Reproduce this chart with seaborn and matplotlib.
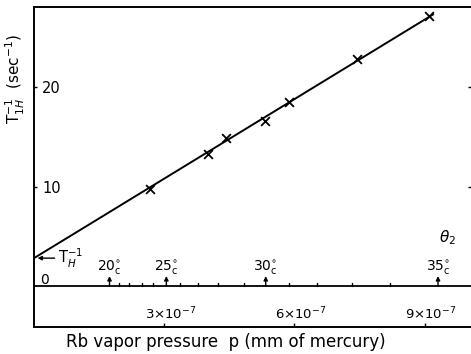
import numpy as np
import pandas as pd
import matplotlib
matplotlib.use("Agg")
import matplotlib.pyplot as plt
import seaborn as sns

# Measured relaxation rates vs Rb vapor pressure (pressure in units of 1e-7 mm Hg)
pressure = [2.68, 4.01, 4.43, 5.32, 5.87, 7.45, 9.11]
rate = [9.75, 13.27, 14.87, 16.58, 18.49, 22.81, 27.14]

# Fitted straight line (end points)
fit_p = [0.0, 9.2]
fit_rate = [2.8, 27.3]

# Pressure axis ticks
p_ticks = [3, 6, 9]
p_tick_labels = [r"3$\times$10$^{-7}$", r"6$\times$10$^{-7}$", r"9$\times$10$^{-7}$"]

# Temperature scale (theta_2) marked along the zero line
temp_major = [20, 25, 30, 35]
temp_major_p = [1.74, 3.05, 5.34, 9.31]
temp_minor_p = [1.95, 2.20, 2.48, 2.75, 3.37, 3.78, 4.24, 4.84,
                5.87, 6.51, 7.32, 8.21]

y_ticks = [10, 20]

sns.set_theme(style="ticks")
plt.rcParams["font.family"] = ["DejaVu Sans"]
plt.rcParams["mathtext.fontset"] = "dejavusans"
for key in ["text.color", "axes.labelcolor", "xtick.color", "ytick.color",
            "axes.edgecolor"]:
    plt.rcParams[key] = "black"

fig = plt.figure(figsize=(4.71, 3.54), dpi=100)
ax = fig.add_axes([34 / 471, (354 - 327) / 354, (471 - 34) / 471, (327 - 7) / 354])

df_pts = pd.DataFrame({"p": pressure, "rate": rate})
df_fit = pd.DataFrame({"p": fit_p, "rate": fit_rate})

sns.lineplot(data=df_fit, x="p", y="rate", color="black", linewidth=1.4, ax=ax)
sns.scatterplot(data=df_pts, x="p", y="rate", marker="x", color="black",
                s=40, linewidth=1.3, ax=ax, zorder=3)

ax.set_xlim(0, 10.07)
ax.set_ylim(-4.12, 28.04)

for side in ["left", "top", "bottom"]:
    ax.spines[side].set_color("black")
    ax.spines[side].set_linewidth(1.4)
ax.spines["right"].set_visible(False)

# zero line carrying the temperature scale
ax.axhline(0, color="black", linewidth=1.3)

ax.set_xticks(p_ticks)
ax.set_xticklabels([])
ax.tick_params(axis="x", direction="in", length=3, width=1, color="black")
for p, lab in zip(p_ticks, p_tick_labels):
    ax.text(p + 0.15, -2.85, lab, ha="center", va="center", fontsize=9.5)

ax.set_yticks(y_ticks)
ax.set_yticklabels([str(v) for v in y_ticks])
ax.tick_params(axis="y", direction="in", length=2, width=1, color="black",
               pad=-6, labelsize=10.5, right=True)
for lab in ax.get_yticklabels():
    lab.set_horizontalalignment("left")
ax.set_xlabel("")
ax.set_ylabel("")

# minor temperature marks
for p in temp_minor_p:
    ax.plot([p, p], [0, 0.3], color="black", linewidth=1)
# major temperature marks with arrows and labels
for t, p in zip(temp_major, temp_major_p):
    ax.annotate("", xy=(p, 1.0), xytext=(p, 0),
                arrowprops=dict(arrowstyle="-|>", color="black", lw=1,
                                mutation_scale=6, shrinkA=0, shrinkB=0))
    ax.text(p, 1.8, rf"{t}$^{{\circ}}_{{\rm c}}$", ha="center", va="center",
            fontsize=10)

ax.text(9.52, 4.9, r"$\theta_2$", ha="center", va="center", fontsize=11)
ax.text(0.15, 0.6, "0", ha="left", va="center", fontsize=10)

ax.annotate(r"T$_{H}^{-1}$", xy=(0.05, 2.8), xytext=(0.55, 2.8),
            ha="left", va="center", fontsize=10.5,
            arrowprops=dict(arrowstyle="-|>", color="black", lw=1,
                            mutation_scale=6, shrinkA=0, shrinkB=1))

fig.text(15 / 471, 1 - 79 / 354, r"T$^{-1}_{1H}$  (sec$^{-1}$)", rotation=90,
         ha="center", va="center", fontsize=11)
fig.text(226 / 471, 1 - 342 / 354, "Rb vapor pressure  p (mm of mercury)",
         ha="center", va="center", fontsize=12)

fig.savefig("out.png", dpi=100)
